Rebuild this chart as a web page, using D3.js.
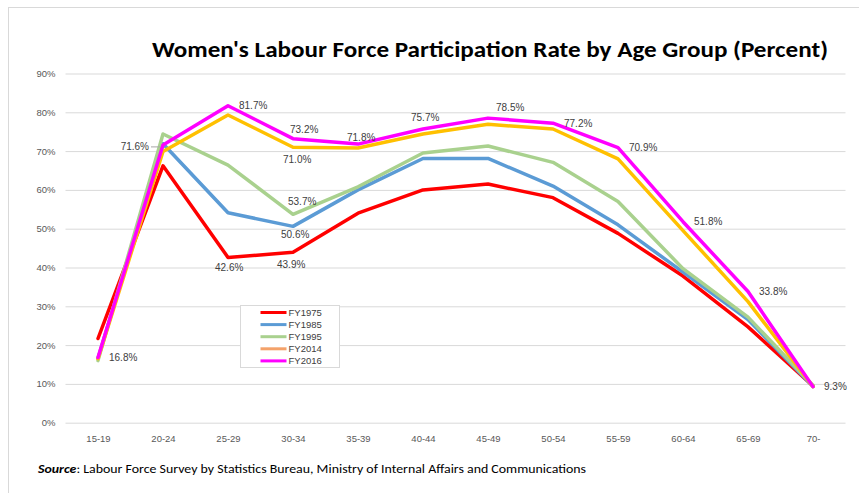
<!DOCTYPE html>
<html>
<head>
<meta charset="utf-8">
<script src="https://cdn.jsdelivr.net/npm/d3@7"></script>
<style>
    html, body { margin: 0; padding: 0; background: #fff; }
    svg { display: block; }
</style>
</head>
<body>
<div id="chart"></div>
<script>
var categories = ['15-19', '20-24', '25-29', '30-34', '35-39', '40-44', '45-49', '50-54', '55-59', '60-64', '65-69', '70-'];
var fy1975 = [21.7, 66.2, 42.6, 43.9, 54.0, 60.0, 61.5, 58.0, 48.8, 37.8, 24.7, 9.5];
var fy1985 = [16.6, 71.9, 54.1, 50.6, 60.0, 68.1, 68.1, 61.0, 51.0, 38.8, 26.6, 9.3];
var fy1995 = [16.0, 74.4, 66.4, 53.7, 60.8, 69.5, 71.3, 67.1, 57.0, 39.7, 27.2, 9.6];
var fy2014 = [16.5, 69.9, 79.3, 71.0, 70.8, 74.4, 76.9, 75.7, 68.0, 49.5, 31.2, 9.3];
var fy2016 = [16.8, 71.6, 81.7, 73.2, 71.8, 75.7, 78.5, 77.2, 70.9, 51.8, 33.8, 9.3];
var seriesNames = ['FY1975', 'FY1985', 'FY1995', 'FY2014', 'FY2016'];
var yTicks = [0, 10, 20, 30, 40, 50, 60, 70, 80, 90];

var title = "Women's Labour Force Participation Rate by Age Group (Percent)";
var sourceLead = 'Source';
var sourceText = ': Labour Force Survey by Statistics Bureau, Ministry of Internal Affairs and Communications';

var seriesValues = [fy1975, fy1985, fy1995, fy2014, fy2016];

// styles
var lineColors = ['#ff0000', '#5b9bd5', '#a9d18e', '#ffc000', '#ff00ff'];
var legendColors = ['#ff0000', '#5b9bd5', '#a9d18e', '#f4a26a', '#ff00ff'];
var gridColor = '#d9d9d9';
var textColor = '#404040';
var axisTextColor = '#595959';
var font = "'Liberation Sans', Arial, sans-serif";
var titleFont = "Carlito, 'Open Sans', sans-serif";

var width = 859;
var height = 493;

// data label placement: which series / category, offset from the point
var labelPlacement = [
    { s: 4, i: 0, dx: 11, dy: 0, anchor: 'start' },
    { s: 4, i: 1, dx: -14, dy: 2, anchor: 'end', leader: true },
    { s: 4, i: 2, dx: 11, dy: 0, anchor: 'start' },
    { s: 4, i: 3, dx: -3, dy: -9, anchor: 'start' },
    { s: 3, i: 3, dx: -10, dy: 12, anchor: 'start' },
    { s: 2, i: 3, dx: -5, dy: -13, anchor: 'start' },
    { s: 1, i: 3, dx: -12, dy: 8, anchor: 'start' },
    { s: 0, i: 2, dx: -13, dy: 10, anchor: 'start' },
    { s: 0, i: 3, dx: -16, dy: 12, anchor: 'start' },
    { s: 4, i: 4, dx: -11, dy: -7, anchor: 'start' },
    { s: 4, i: 5, dx: -12, dy: -11, anchor: 'start' },
    { s: 4, i: 6, dx: 8, dy: -11, anchor: 'start' },
    { s: 4, i: 7, dx: 11, dy: 0, anchor: 'start' },
    { s: 4, i: 8, dx: 11, dy: 0, anchor: 'start' },
    { s: 4, i: 9, dx: 11, dy: 0, anchor: 'start' },
    { s: 4, i: 10, dx: 11, dy: 0, anchor: 'start' },
    { s: 4, i: 11, dx: 11, dy: 0, anchor: 'start' }
];

var svg = d3.select('#chart').append('svg')
    .attr('width', width)
    .attr('height', height);

// chart frame (runs off the right / bottom edges)
svg.append('rect')
    .attr('x', 8.5)
    .attr('y', 7.5)
    .attr('width', 900)
    .attr('height', 600)
    .attr('fill', '#fff')
    .attr('stroke', gridColor);

var plotLeft = 65.5;
var plotRight = 845.5;

var x = d3.scalePoint()
    .domain(categories)
    .range([98, 813]);

var y = d3.scaleLinear()
    .domain([0, 90])
    .range([422.7, 73.5]);

// y axis with gridlines
var yAxis = svg.append('g')
    .attr('transform', 'translate(' + plotLeft + ',0)')
    .call(d3.axisLeft(y)
        .tickValues(yTicks)
        .tickSize(-(plotRight - plotLeft))
        .tickPadding(10)
        .tickFormat(function(d) { return d + '%'; }));

yAxis.select('.domain').remove();
yAxis.selectAll('.tick line')
    .attr('stroke', gridColor)
    .attr('stroke-width', 1);
yAxis.selectAll('.tick text')
    .attr('fill', axisTextColor)
    .style('font-family', font)
    .style('font-size', '9.5px');

// x axis, labels only
var xAxis = svg.append('g')
    .attr('transform', 'translate(0,' + y(0) + ')')
    .call(d3.axisBottom(x).tickSize(0).tickPadding(13));

xAxis.select('.domain').remove();
xAxis.selectAll('.tick text')
    .attr('fill', axisTextColor)
    .style('font-family', font)
    .style('font-size', '9.5px');

// lines
var line = d3.line()
    .x(function(d, i) { return x(categories[i]); })
    .y(function(d) { return y(d); });

svg.append('g')
    .selectAll('path')
    .data(seriesValues)
    .enter()
    .append('path')
    .attr('d', line)
    .attr('fill', 'none')
    .attr('stroke', function(d, i) { return lineColors[i]; })
    .attr('stroke-width', 3.5)
    .attr('stroke-linejoin', 'round')
    .attr('stroke-linecap', 'round');

// data labels
var labels = svg.append('g');

labelPlacement.forEach(function(p) {
    var v = seriesValues[p.s][p.i];
    var px = x(categories[p.i]);
    var py = y(v);

    if (p.leader) {
        labels.append('line')
            .attr('x1', px + p.dx + 2)
            .attr('x2', px - 3)
            .attr('y1', py + p.dy)
            .attr('y2', py + p.dy)
            .attr('stroke', '#a6a6a6')
            .attr('stroke-width', 1);
    }

    labels.append('text')
        .attr('x', px + p.dx)
        .attr('y', py + p.dy)
        .attr('dy', '0.35em')
        .attr('text-anchor', p.anchor)
        .attr('fill', textColor)
        .style('font-family', font)
        .style('font-size', '10px')
        .text(d3.format('.1f')(v) + '%');
});

// legend
var legend = svg.append('g').attr('transform', 'translate(240.5,305.5)');

legend.append('rect')
    .attr('width', 99)
    .attr('height', 62)
    .attr('fill', '#fff')
    .attr('stroke', gridColor);

var legendItem = legend.selectAll('g.item')
    .data(seriesNames)
    .enter()
    .append('g')
    .attr('class', 'item')
    .attr('transform', function(d, i) { return 'translate(0,' + (7 + i * 12.1) + ')'; });

legendItem.append('line')
    .attr('x1', 20)
    .attr('x2', 46)
    .attr('stroke', function(d, i) { return legendColors[i]; })
    .attr('stroke-width', 3);

legendItem.append('text')
    .attr('x', 48)
    .attr('dy', '0.35em')
    .attr('fill', textColor)
    .style('font-family', font)
    .style('font-size', '9.5px')
    .text(function(d) { return d; });

// title
svg.append('text')
    .attr('x', 490)
    .attr('y', 57)
    .attr('text-anchor', 'middle')
    .attr('textLength', 676)
    .attr('lengthAdjust', 'spacingAndGlyphs')
    .attr('fill', '#000')
    .style('font-family', titleFont)
    .style('font-size', '22px')
    .style('font-weight', 'bold')
    .text(title);

// source note
var source = svg.append('text')
    .attr('x', 38)
    .attr('y', 473)
    .attr('textLength', 548)
    .attr('lengthAdjust', 'spacingAndGlyphs')
    .attr('fill', '#000')
    .style('font-family', titleFont)
    .style('font-size', '12px');

source.append('tspan')
    .style('font-weight', 'bold')
    .style('font-style', 'italic')
    .text(sourceLead);

source.append('tspan')
    .text(sourceText);
</script>
</body>
</html>
